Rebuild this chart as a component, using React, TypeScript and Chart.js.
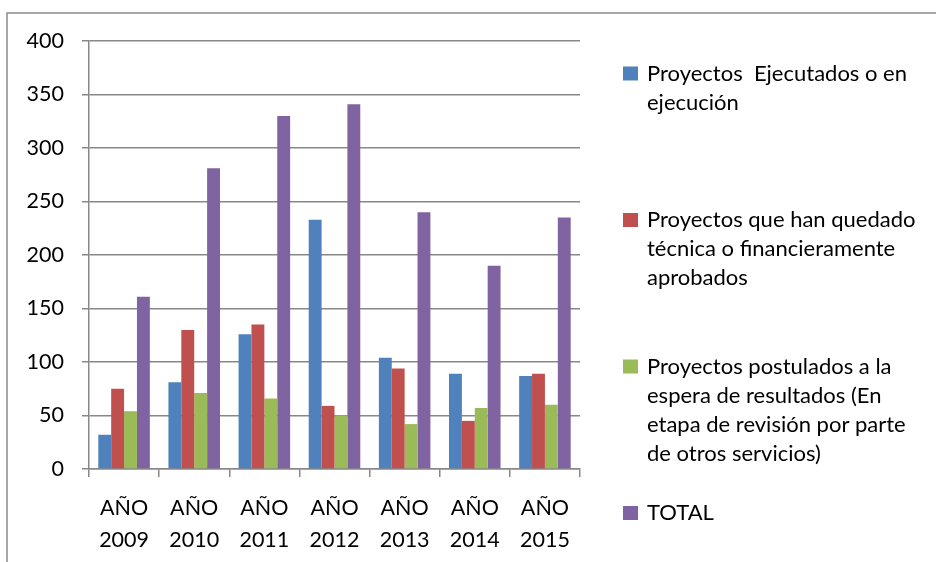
import React, { useEffect, useRef } from "react";
import { Chart, registerables } from "chart.js";

Chart.register(...registerables);

const categories: string[][] = [
  ["AÑO", "2009"],
  ["AÑO", "2010"],
  ["AÑO", "2011"],
  ["AÑO", "2012"],
  ["AÑO", "2013"],
  ["AÑO", "2014"],
  ["AÑO", "2015"],
];

const ejecutados = [32, 81, 126, 233, 104, 89, 87];
const aprobados = [75, 130, 135, 59, 94, 45, 89];
const postulados = [54, 71, 66, 50, 42, 57, 60];
const total = [161, 281, 330, 341, 240, 190, 235];

const seriesLines: string[][] = [
  ["Proyectos  Ejecutados o en", "ejecución"],
  ["Proyectos que han quedado", "técnica o financieramente", "aprobados"],
  ["Proyectos postulados a la", "espera de resultados (En", "etapa de revisión por parte", "de otros servicios)"],
  ["TOTAL"],
];
const seriesColors = ["#4F81BD", "#C0504D", "#9BBB59", "#8064A2"];
const seriesValues = [ejecutados, aprobados, postulados, total];

const yMin = 0;
const yMax = 400;
const yStep = 50;

const FONT = "Lato, 'Open Sans', sans-serif";

const framePlugin = {
  id: "frame",
  beforeDraw(chart: any) {
    const ctx = chart.ctx;
    ctx.save();
    ctx.fillStyle = "#ffffff";
    ctx.fillRect(0, 0, chart.width, chart.height);
    ctx.strokeStyle = "#8c8c8c";
    ctx.lineWidth = 1.5;
    ctx.strokeRect(7, 13, chart.width + 20, chart.height + 20);
    ctx.restore();
  },
};

const legendPlugin = {
  id: "customLegend",
  afterDraw(chart: any) {
    const ctx = chart.ctx;
    ctx.save();
    ctx.font = `22px ${FONT}`;
    ctx.textBaseline = "alphabetic";
    ctx.textAlign = "left";
    const x0 = 623;
    const firstBaseline = 80.5;
    const itemStep = 146.5;
    const lineStep = 29;
    chart.data.datasets.forEach((ds: any, i: number) => {
      const base = firstBaseline + i * itemStep;
      ctx.fillStyle = ds.backgroundColor;
      ctx.fillRect(x0, base - 14, 15, 14);
      ctx.fillStyle = "#000000";
      (ds.legendLines as string[]).forEach((line, j) => {
        ctx.fillText(line, x0 + 24, base + j * lineStep);
      });
    });
    ctx.restore();
  },
};

export default function App() {
  const ref = useRef<HTMLCanvasElement | null>(null);

  useEffect(() => {
    if (!ref.current) return;
    const gridColor = "#888888";
    const chart = new Chart(ref.current, {
      type: "bar",
      data: {
        labels: categories,
        datasets: seriesLines.map((lines, i) => ({
          label: lines.join(" "),
          legendLines: lines,
          data: seriesValues[i],
          backgroundColor: seriesColors[i],
          borderWidth: 0,
          categoryPercentage: 0.735,
          barPercentage: 1.0,
        })) as any,
      },
      options: {
        responsive: false,
        animation: false,
        devicePixelRatio: 1,
        layout: { padding: { top: 41, right: 356, left: 0, bottom: 0 } },
        plugins: {
          legend: { display: false },
          tooltip: { enabled: false },
          title: { display: false },
        },
        scales: {
          x: {
            offset: true,
            afterFit: (scale: any) => {
              scale.height = 93;
            },
            grid: {
              display: true,
              drawOnChartArea: false,
              drawTicks: true,
              tickLength: 8,
              offset: true,
              color: gridColor,
              lineWidth: 1.5,
            },
            border: { display: true, color: gridColor, width: 1.5 },
            ticks: {
              color: "#000000",
              padding: 15,
              maxRotation: 0,
              autoSkip: false,
              font: { family: FONT, size: 21.5, lineHeight: 1.5 },
            },
          },
          y: {
            min: yMin,
            max: yMax,
            afterFit: (scale: any) => {
              scale.width = 89;
            },
            grid: {
              color: gridColor,
              lineWidth: 1.5,
              drawTicks: true,
              tickLength: 7,
            },
            border: { display: true, color: gridColor, width: 1.5 },
            ticks: {
              stepSize: yStep,
              color: "#000000",
              padding: 18,
              font: { family: FONT, size: 21.5 },
            },
          },
        },
      },
      plugins: [framePlugin, legendPlugin],
    });
    return () => chart.destroy();
  }, []);

  return (
    <div style={{ position: "fixed", left: 0, top: 0, width: 936, height: 562, background: "#fff" }}>
      <canvas ref={ref} width={936} height={562} style={{ display: "block", width: 936, height: 562 }} />
    </div>
  );
}
